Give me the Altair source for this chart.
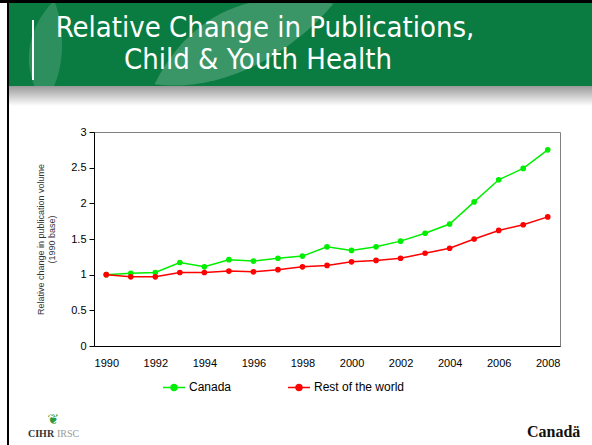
import altair as alt
import pandas as pd

years = list(range(1990, 2009))
canada = [1.00, 1.02, 1.03, 1.17, 1.11, 1.21, 1.19, 1.23, 1.26, 1.39,
          1.34, 1.39, 1.47, 1.58, 1.71, 2.02, 2.33, 2.49, 2.75]
rest = [1.00, 0.97, 0.97, 1.03, 1.03, 1.05, 1.04, 1.07, 1.11, 1.13,
        1.18, 1.20, 1.23, 1.30, 1.37, 1.50, 1.62, 1.70, 1.81]
series_names = ["Canada", "Rest of the world"]
series_colors = ["#00ee00", "#ff0000"]
x_tick_labels = list(range(1990, 2009, 2))
y_tick_labels = [0, 0.5, 1, 1.5, 2, 2.5, 3]
title_lines = ["Relative Change in Publications,", "Child & Youth Health"]
y_title = ["Relative change in publication volume", "(1990 base)"]

df = pd.DataFrame({
    "Year": years * 2,
    "Value": canada + rest,
    "Series": [series_names[0]] * len(years) + [series_names[1]] * len(years),
})

one = alt.Data(values=[{}])
title_font = "Liberation Sans Narrow, DejaVu Sans Condensed, Roboto"
leaf = "M-1,0.45 C-0.5,-0.55 0.4,-0.6 1,-0.45 C0.5,0.15 -0.3,0.55 -1,0.45Z"

# Decorative slide elements (positions in pixels relative to plot origin)
header = alt.Chart(one).mark_rect(color="#0a7c42").encode(
    x=alt.value(-86), x2=alt.value(498), y=alt.value(-129), y2=alt.value(-46))
swoosh1 = alt.Chart(one).mark_point(shape=leaf, filled=True, color="#ffffff",
                                    opacity=0.2, size=32000, strokeWidth=0).encode(
    x=alt.value(150), y=alt.value(-88))
swoosh2 = alt.Chart(one).mark_point(shape=leaf, filled=True, color="#ffffff",
                                    opacity=0.15, size=9000, strokeWidth=0, angle=300).encode(
    x=alt.value(-45), y=alt.value(-80))
shade = alt.Chart(one).mark_rect(
    color=alt.Gradient(gradient="linear",
                       stops=[alt.GradientStop(color="#9a9a9a", offset=0),
                              alt.GradientStop(color="#ffffff", offset=1)],
                       x1=0, x2=0, y1=0, y2=1)).encode(
    x=alt.value(-86), x2=alt.value(498), y=alt.value(-46), y2=alt.value(-26))
top_border = alt.Chart(one).mark_rect(color="#000000").encode(
    x=alt.value(-94), x2=alt.value(498), y=alt.value(-132), y2=alt.value(-129))
left_border = alt.Chart(one).mark_rect(color="#000000").encode(
    x=alt.value(-87), x2=alt.value(-85), y=alt.value(-132), y2=alt.value(313))
bar = alt.Chart(one).mark_rect(color="#ffffff").encode(
    x=alt.value(-62), x2=alt.value(-60), y=alt.value(-112), y2=alt.value(-52))
t1 = alt.Chart(one).mark_text(color="white", fontSize=29, align="center", baseline="alphabetic",
                               font=title_font).encode(
    x=alt.value(171), y=alt.value(-95), text=alt.value(title_lines[0]))
t2 = alt.Chart(one).mark_text(color="white", fontSize=29, align="center", baseline="alphabetic",
                               font=title_font).encode(
    x=alt.value(164), y=alt.value(-63), text=alt.value(title_lines[1]))

logo_leaf = alt.Chart(one).mark_text(color="#2e9a3c", fontSize=14, align="center",
                                     font="DejaVu Sans").encode(
    x=alt.value(-41), y=alt.value(288), text=alt.value("❦"))
logo1 = alt.Chart(one).mark_text(color="#333333", fontSize=10, align="left", fontWeight="bold",
                                 font="Liberation Serif").encode(
    x=alt.value(-66), y=alt.value(302), text=alt.value("CIHR"))
logo2 = alt.Chart(one).mark_text(color="#999999", fontSize=10, align="left",
                                 font="Liberation Serif").encode(
    x=alt.value(-37), y=alt.value(302), text=alt.value("IRSC"))
canada_mark = alt.Chart(one).mark_text(color="#111111", fontSize=16, align="left", fontWeight="bold",
                                       font="Liberation Serif").encode(
    x=alt.value(433), y=alt.value(300), text=alt.value("Canadä"))

legend_symbol = "M-1,0H1M-0.28,0a0.28,0.28 0 1,0 0.56,0a0.28,0.28 0 1,0 -0.56,0Z"

lines = alt.Chart(df).mark_line(
    strokeWidth=1.5,
    point=alt.OverlayMarkDef(filled=True, size=32, opacity=1),
).encode(
    x=alt.X("Year:Q", scale=alt.Scale(domain=[1989.5, 2008.5], nice=False, zero=False),
            axis=alt.Axis(values=x_tick_labels, format="d", title=None, ticks=False,
                          labelPadding=11, labelFlush=False)),
    y=alt.Y("Value:Q", scale=alt.Scale(domain=[0, 3], nice=False),
            axis=alt.Axis(values=y_tick_labels, format="~g", title=y_title,
                          titleFontSize=9, titleFontWeight="normal", titleColor="#333333",
                          titlePadding=14, tickSize=5, labelPadding=3)),
    color=alt.Color("Series:N",
                    scale=alt.Scale(domain=series_names, range=series_colors),
                    legend=alt.Legend(title=None, orient="none", legendX=68, legendY=243,
                                      direction="horizontal", symbolType=legend_symbol,
                                      symbolSize=484, symbolStrokeWidth=1.5,
                                      labelFontSize=12, labelFont="Liberation Sans",
                                      labelColor="#000000", columnPadding=53,
                                      symbolOffset=0, labelOffset=3)),
)

chart = alt.layer(
    header, swoosh1, swoosh2, shade, top_border, left_border, bar, t1, t2,
    logo_leaf, logo1, logo2, canada_mark, lines,
).properties(
    width=466, height=214,
    autosize=alt.AutoSizeParams(type="none"),
    padding={"left": 94, "top": 132, "right": 32, "bottom": 99},
    background="white",
).configure_view(
    stroke="#808080", strokeWidth=1,
).configure_axis(
    grid=False, domainColor="#000000", domainWidth=1, tickColor="#000000",
    labelFont="Liberation Sans", labelFontSize=11, labelColor="#000000",
    titleFont="Liberation Sans",
)

chart.save("out.html", embed_options={"renderer": "svg", "actions": False})
